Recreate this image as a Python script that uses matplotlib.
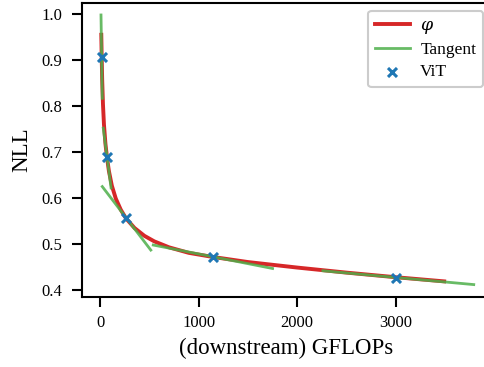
import matplotlib
matplotlib.use("Agg")
import matplotlib.pyplot as plt

# Fitted scaling curve phi (GFLOPs -> NLL)
phi_gflops = [13, 17, 22, 30, 40, 55, 71, 90, 120, 160, 210, 263, 350, 450,
              550, 700, 900, 1146, 1500, 2000, 2500, 3000, 3490]
phi_nll = [0.955, 0.907, 0.857, 0.804, 0.760, 0.718, 0.688, 0.659, 0.627,
           0.599, 0.575, 0.556, 0.535, 0.518, 0.506, 0.493, 0.481, 0.472,
           0.461, 0.449, 0.438, 0.428, 0.419]

# ViT models
vit_gflops = [17, 71, 263, 1146, 3002]
vit_nll = [0.907, 0.689, 0.556, 0.472, 0.427]

# Tangent segments at each model: (x0, x1), (y0, y1)
tangent_x = [(10, 23), (33, 112), (23, 515), (540, 1750), (2260, 3790)]
tangent_y = [(0.998, 0.817), (0.752, 0.622), (0.625, 0.487), (0.498, 0.447),
             (0.442, 0.412)]

xticks = [0, 1000, 2000, 3000]
yticks = [0.4, 0.5, 0.6, 0.7, 0.8, 0.9, 1.0]

plt.rcParams["font.family"] = ["Liberation Serif", "DejaVu Serif"]
plt.rcParams["mathtext.fontset"] = "dejavuserif"

fig = plt.figure(figsize=(4.85, 3.67), dpi=100)
ax = fig.add_axes([0.169, 0.1907, 0.8434, 0.8011])

ax.plot(phi_gflops, phi_nll, color="#d62728", lw=2.8, label=r"$\varphi$",
        zorder=2)
for i, (tx, ty) in enumerate(zip(tangent_x, tangent_y)):
    ax.plot(tx, ty, color="#4daf4a", lw=2.0, alpha=0.85, zorder=3,
            label="Tangent" if i == 0 else None)
ax.scatter(vit_gflops, vit_nll, marker="x", color="#1f77b4", s=42,
           linewidths=2.2, zorder=4, label="ViT")

ax.set_xlim(-183, 3965)
ax.set_ylim(0.385, 1.024)
ax.set_xticks(xticks)
ax.set_yticks(yticks)
ax.set_xticklabels([str(t) for t in xticks])
ax.set_yticklabels([f"{t:.1f}" for t in yticks])

for s in ax.spines.values():
    s.set_linewidth(1.5)
ax.tick_params(direction="out", length=7, width=1.5, labelsize=12)
ax.tick_params(axis="x", pad=6)
ax.tick_params(axis="y", pad=7)

ax.set_xlabel("(downstream) GFLOPs", fontsize=16.5, labelpad=5)
ax.set_ylabel("NLL", fontsize=16.5, labelpad=7)

leg = ax.legend(loc="upper right", fontsize=12.5, frameon=True, fancybox=True,
                edgecolor="#cccccc", framealpha=1.0, borderaxespad=0.45,
                handlelength=2.0, handletextpad=0.6, labelspacing=0.35,
                borderpad=0.4)
leg.get_frame().set_linewidth(1.5)

fig.savefig("out.png", dpi=100)
